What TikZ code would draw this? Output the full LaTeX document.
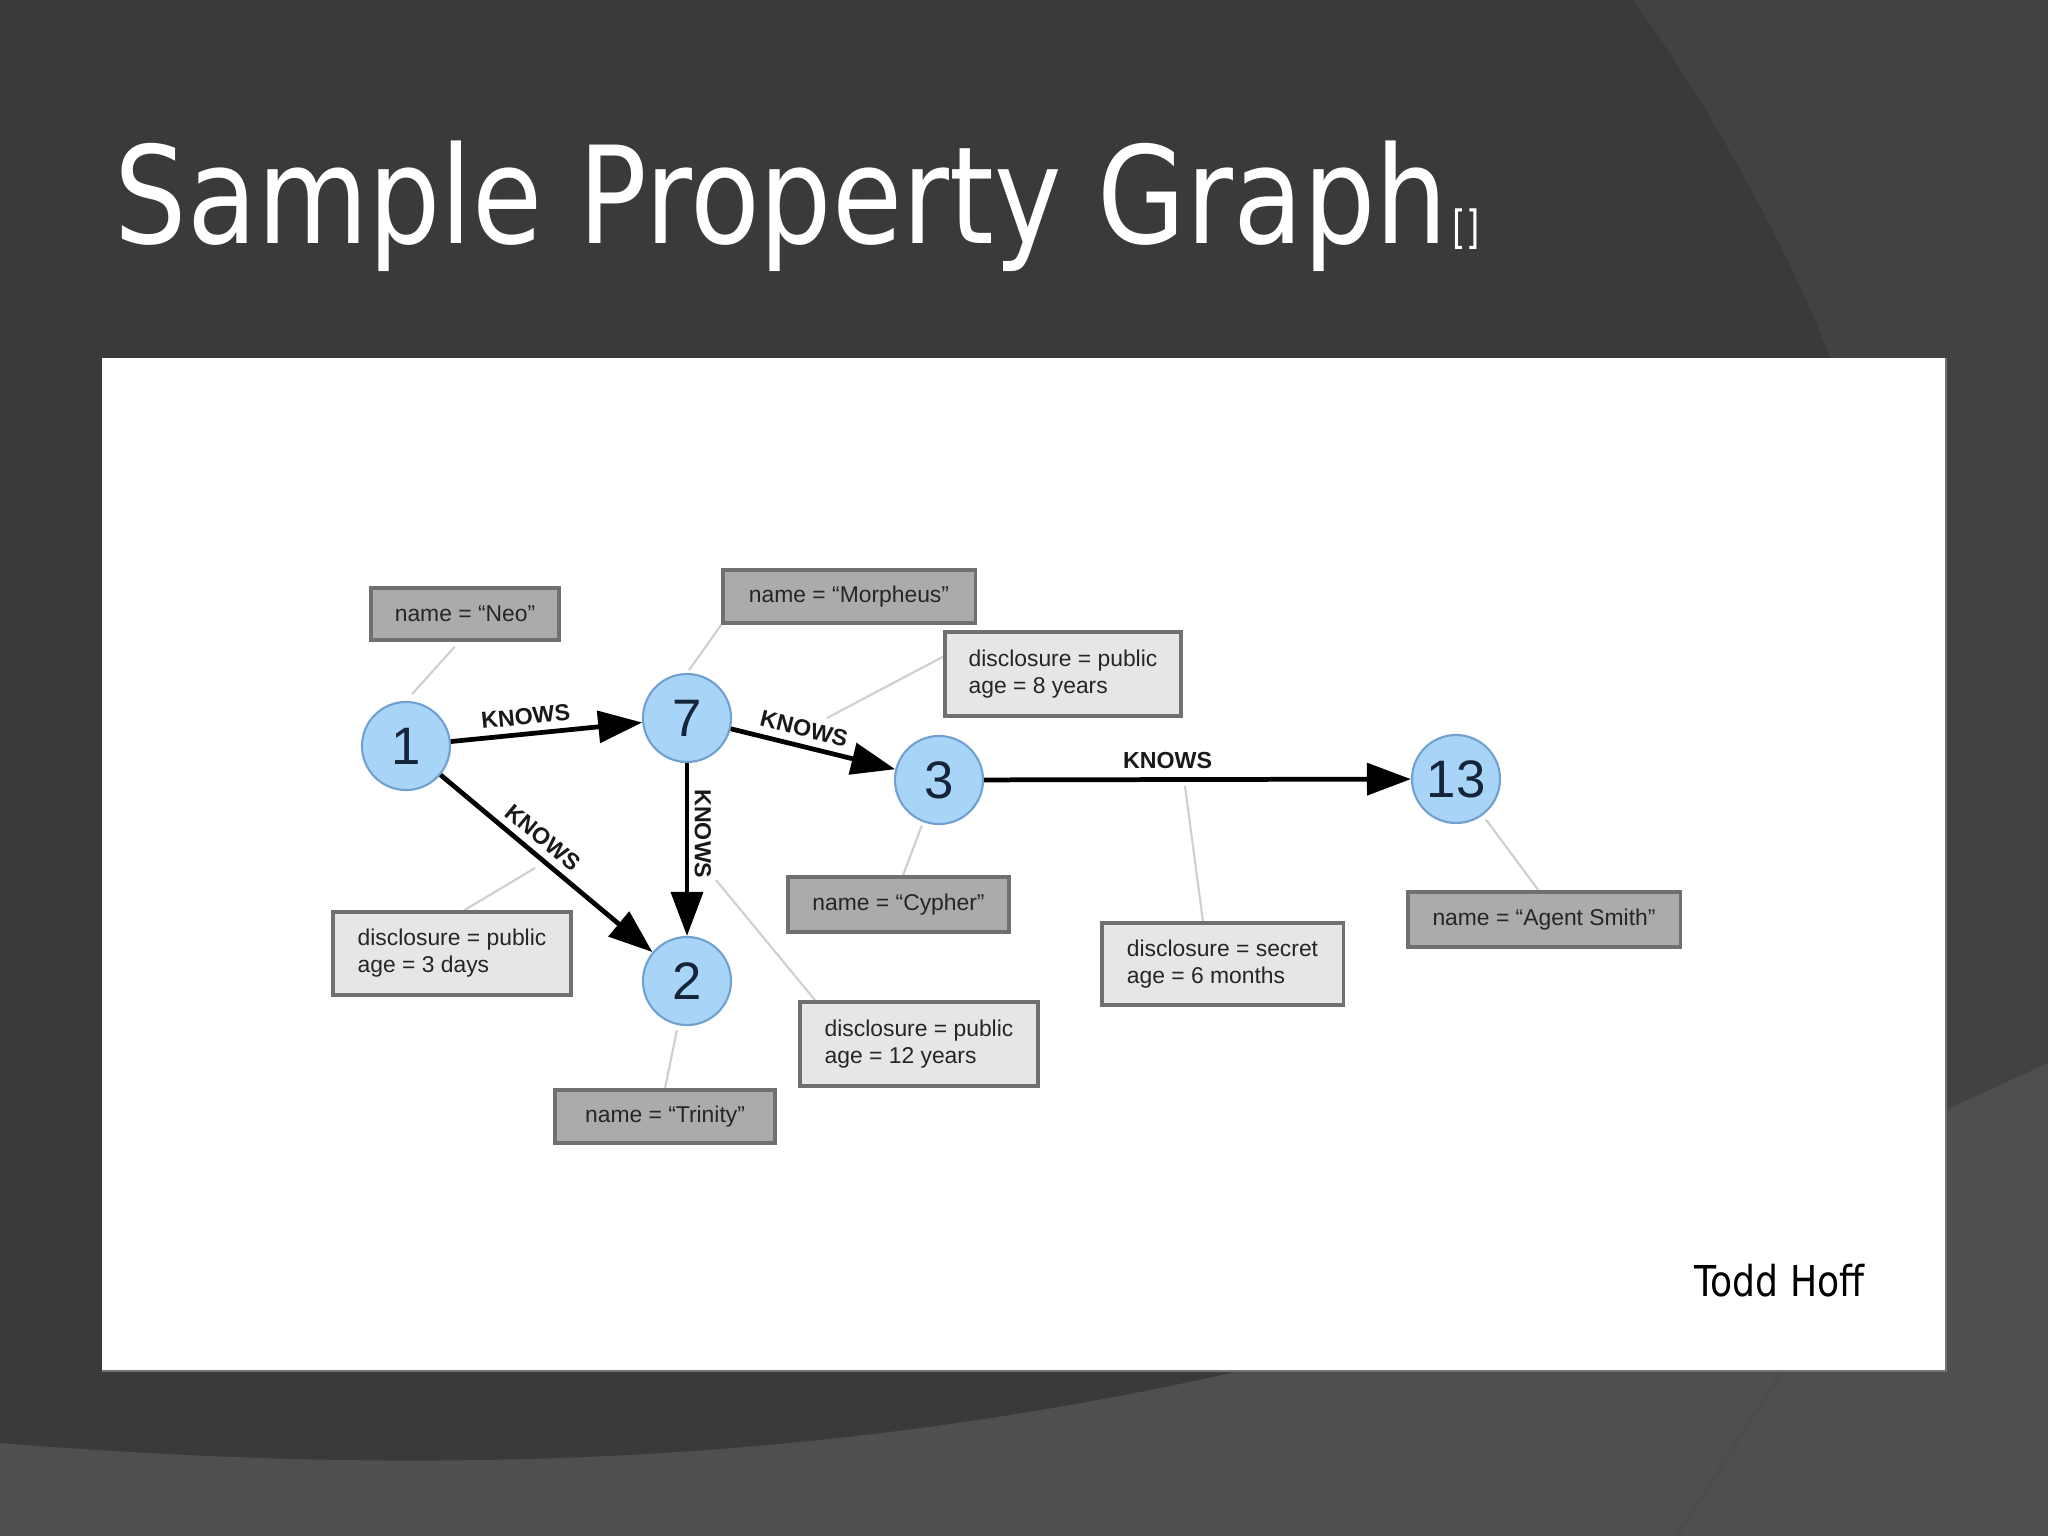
\documentclass[tikz,border=0pt]{standalone}
\usepackage{fontspec}
\setmainfont{Liberation Sans}
\newfontfamily\titlefont{DejaVu Sans}
\usepackage{graphicx}
\usetikzlibrary{arrows.meta,calc}
\pgfdeclarelayer{back}
\pgfdeclarelayer{links}
\pgfsetlayers{back,links,main}
\definecolor{bgdark}{HTML}{3A3A3A}
\definecolor{bgright}{HTML}{424242}
\definecolor{bglight}{HTML}{504E51}
\definecolor{nodeblue}{RGB}{168,212,247}
\definecolor{nodeedge}{RGB}{112,160,208}
\definecolor{navy}{HTML}{16243A}
\definecolor{boxdark}{HTML}{ABABAB}
\definecolor{boxlight}{HTML}{E6E6E6}
\definecolor{boxedge}{HTML}{707070}
\definecolor{linkgray}{HTML}{CFCFCF}
\begin{document}
\begin{tikzpicture}[x=0.01cm,y=-0.01cm,
  vertex/.style={circle, minimum size=0.88cm, inner sep=0pt, fill=nodeblue, draw=nodeedge, line width=0.6pt, text=navy, font=\fontsize{15}{15}\selectfont},
  pdark/.style={rectangle, fill=boxdark, draw=boxedge, line width=0.9pt, inner sep=0pt, font=\fontsize{6.5}{7.7}\selectfont, text=black!85},
  plight/.style={rectangle, fill=boxlight, draw=boxedge, line width=0.9pt, inner sep=0pt, align=left, font=\fontsize{6.5}{7.7}\selectfont, text=black!85},
  rel/.style={-{Triangle[length=12.5pt,width=9pt]}, line width=1.35pt, black},
  lbl/.style={font=\bfseries\fontsize{6.6}{6.6}\selectfont, inner sep=1.5pt, text=black!90},
  link/.style={draw=linkgray, line width=0.6pt}
]
\useasboundingbox (0,0) rectangle (2048,1536);
% slide background
\begin{pgfonlayer}{back}
\fill[bgdark] (0,0) rectangle (2048,1536);
\fill[bgright] (1633,0) .. controls (1700,90) and (1790,250) .. (1830,358) -- (1946,400) -- (1946,1110) -- (2048,1063) -- (2048,0) -- cycle;
\fill[bglight] (0,1443) .. controls (400,1475) and (800,1470) .. (1240,1371) -- (1946,1371) -- (1946,1110) -- (2048,1063) -- (2048,1536) -- (0,1536) -- cycle;
\draw[color=black!75!white, opacity=0.2, line width=1pt] (1782,1371) -- (1677,1536);
\fill[white] (102,358) rectangle (1946,1371);
\draw[color=black!55, line width=0.5pt] (102,1371) -- (1946,1371) -- (1946,358);
\end{pgfonlayer}
% title
\node[anchor=base west, inner sep=0pt, text=white] (title) at (114,243) {\scalebox{0.845}[1]{\titlefont\fontsize{38.4}{46}\selectfont Sample Property Graph}};
\node[anchor=base west, inner sep=0pt, text=white] (tofu) at (1452,243) {\scalebox{0.75}[1]{\titlefont\fontsize{13}{13}\selectfont []}};
\node[anchor=base west, inner sep=0pt, text=black] (author) at (1694,1296) {\scalebox{0.85}[1]{\titlefont\fontsize{12.1}{14}\selectfont Todd Hoff}};
% vertices
\node[vertex] (n1) at (406,746) {1};
\node[vertex] (n7) at (687,718) {7};
\node[vertex] (n3) at (939,780) {3};
\node[vertex] (n2) at (687,981) {2};
\node[vertex] (n13) at (1456,779) {13};
% property boxes
\node[pdark, minimum width=1.88cm, minimum height=0.52cm] (neo) at (465,614) {name = ``Neo''};
\node[pdark, minimum width=2.52cm, minimum height=0.53cm] (morph) at (849,596.5) {name = ``Morpheus''};
\node[pdark, minimum width=2.21cm, minimum height=0.55cm] (cy) at (898.5,904.5) {name = ``Cypher''};
\node[pdark, minimum width=2.72cm, minimum height=0.55cm] (smith) at (1544,919.5) {name = ``Agent Smith''};
\node[pdark, minimum width=2.20cm, minimum height=0.53cm] (tri) at (665,1116.5) {name = ``Trinity''};
\node[plight, minimum width=2.36cm, minimum height=0.84cm] (b8) at (1063,674) {disclosure = public\\age = 8 years\phantom{lic}};
\node[plight, minimum width=2.41cm, minimum height=0.82cm] (bsec) at (1222.5,964) {disclosure = secret\\age = 6 months\phantom{ret}};
\node[plight, minimum width=2.38cm, minimum height=0.83cm] (b3d) at (452,953.5) {disclosure = public\\age = 3 days\phantom{ublic}};
\node[plight, minimum width=2.38cm, minimum height=0.84cm] (b12) at (919,1044) {disclosure = public\\age = 12 years};
% relationships
\draw[rel] (n1) -- node[lbl, sloped, above=0.5pt, pos=0.4] (l17) {KNOWS} (n7);
\draw[rel] (n7) -- node[lbl, sloped, above=0.5pt, pos=0.42] (l73) {KNOWS} (n3);
\draw[rel] (n7) -- node[lbl, rotate=-90, anchor=south, pos=0.41] (l72) {KNOWS} (n2);
\draw[rel] (n1) -- node[lbl, sloped, above=0.5pt, pos=0.43] (l12) {KNOWS} (n2);
\draw[rel] (n3) -- node[lbl, above=1pt, pos=0.43] (l313) {KNOWS} (n13);
% link ends on relationship labels
\coordinate (k73) at (827,718);
\coordinate (k12) at (535,868);
\coordinate (k72) at (716,880);
\coordinate (k313) at (1185,786);
% thin property links
\begin{pgfonlayer}{links}
\draw[link, shorten <=2pt, shorten >=2.5pt] ($(neo.south west)!0.47!(neo.south east)$) -- (n1.north);
\draw[link, shorten >=1pt] (morph.south west) -- (n7.north);
\draw[link] ($(b8.north west)!0.3!(b8.south west)$) -- (k73);
\draw[link] ($(b3d.north west)!0.55!(b3d.north east)$) -- (k12);
\draw[link] ($(b12.north west)!0.07!(b12.north east)$) -- (k72);
\draw[link, shorten <=1pt] (n3) -- ($(cy.north west)!0.52!(cy.north east)$);
\draw[link, shorten <=1.5pt] (n2) -- (tri.north);
\draw[link] (k313) -- ($(bsec.north west)!0.42!(bsec.north east)$);
\draw[link, shorten <=1.5pt] (n13) -- ($(smith.north west)!0.48!(smith.north east)$);
\end{pgfonlayer}
\end{tikzpicture}
\end{document}
